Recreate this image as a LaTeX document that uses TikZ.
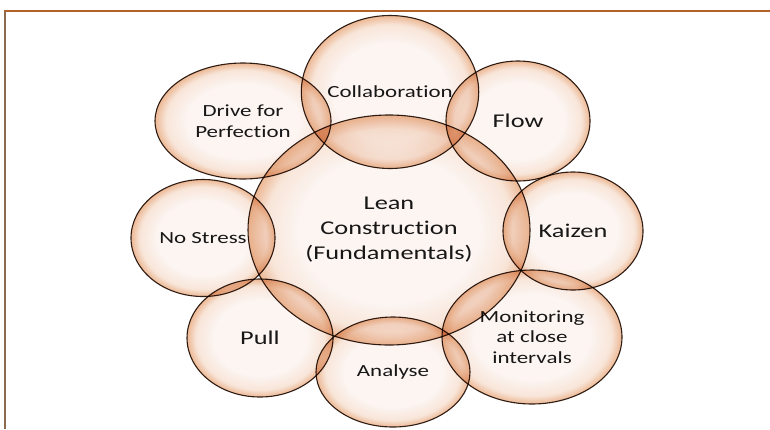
\documentclass[tikz,border=0pt]{standalone}
\usepackage{fontspec}
\setmainfont{Carlito}[FakeStretch=1.35, Ligatures=CommonOff]
\usetikzlibrary{shapes.geometric}

\definecolor{bubblein}{RGB}{252,244,240}
\definecolor{bubblemid}{RGB}{247,226,212}
\definecolor{bubbleout}{RGB}{234,176,136}
\definecolor{bubbleline}{RGB}{50,34,26}
\definecolor{frametop}{RGB}{178,98,40}
\definecolor{frameleft}{RGB}{140,106,80}

\pgfdeclareradialshading{bubbleshade}{\pgfpoint{0bp}{0bp}}{%
    color(0bp)=(bubblein); color(16bp)=(bubblein); color(22bp)=(bubblemid);
    color(25bp)=(bubbleout); color(50bp)=(bubbleout)}

\tikzset{
    bubble/.style={ellipse, draw=bubbleline, line width=1.1pt, shading=bubbleshade,
        blend mode=multiply, fill opacity=0.9, draw opacity=1, text opacity=1,
        inner sep=0pt, align=center, text=black!90},
    bigtext/.style={font=\fontsize{19.5}{25}\selectfont},
    smalltext/.style={font=\fontsize{17}{20.5}\selectfont}
}

\begin{document}
\begin{tikzpicture}[x=1pt, y=-1pt]
    \useasboundingbox (0,0) rectangle (770,429);

    % Frame
    \draw[frametop, line width=2pt] (4,11) -- (770,11);
    \draw[frameleft, line width=2pt] (5,11) -- (5,429);

    % Centre bubble
    \node[bubble, bigtext, minimum width=282, minimum height=230] (lean) at (389,230)
        {Lean\\Construction\\(Fundamentals)};

    % Surrounding bubbles
    \node[bubble, smalltext, minimum width=175, minimum height=153] (collab) at (390,92) {Collaboration};
    \node[bubble, bigtext, minimum width=144, minimum height=120] (flow) at (518,121) {Flow};
    \node[bubble, smalltext, minimum width=176, minimum height=116] (drive) at (243,121) {Drive for\\Perfection};
    \node[bubble, smalltext, minimum width=144, minimum height=117] (nostress) at (203,238) {No Stress};
    \node[bubble, bigtext, minimum width=140, minimum height=118] (kaizen) at (573,231) {Kaizen};
    \node[bubble, bigtext, minimum width=146, minimum height=118] (pull) at (260,338) {Pull};
    \node[bubble, smalltext, minimum width=154, minimum height=110] (analyse) at (393,372) {Analyse};
    \node[bubble, smalltext, minimum width=180, minimum height=134] (monitor) at (532,337)
        {Monitoring\\at close\\intervals};
\end{tikzpicture}
\end{document}
